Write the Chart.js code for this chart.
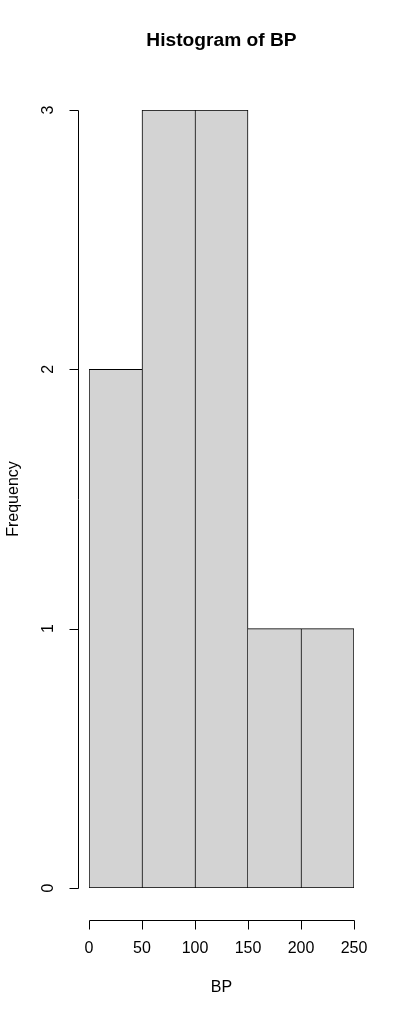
<!DOCTYPE html>
<html>
<head>
<meta charset="utf-8">
<script src="https://cdn.jsdelivr.net/npm/chart.js@4"></script>
<style>
html,body{margin:0;padding:0;background:#fff;}
canvas{display:block;}
</style>
</head>
<body>
<canvas id="c" width="405" height="1018"></canvas>
<script>
const binEdges = [0, 50, 100, 150, 200, 250];
const counts = [2, 3, 3, 1, 1];
const xTicks = [0, 50, 100, 150, 200, 250];
const yTicks = [0, 1, 2, 3];
const titleText = "Histogram of BP";
const xLabel = "BP";
const yLabel = "Frequency";

const points = counts.map((v, i) => ({x: (binEdges[i] + binEdges[i + 1]) / 2, y: v}));
const FONT = '"Liberation Sans", Arial, sans-serif';

const rAxes = {
  id: 'rAxes',
  afterDraw(chart) {
    const ctx = chart.ctx;
    const xs = chart.scales.x, ys = chart.scales.y;
    ctx.save();
    ctx.strokeStyle = '#000';
    ctx.fillStyle = '#000';
    ctx.lineWidth = 1;
    // y axis
    const ax = 78.5;
    ctx.beginPath();
    ctx.moveTo(ax, Math.round(ys.getPixelForValue(yTicks[0])) + 0.5);
    ctx.lineTo(ax, Math.round(ys.getPixelForValue(yTicks[yTicks.length - 1])) + 0.5);
    yTicks.forEach(t => {
      const py = Math.round(ys.getPixelForValue(t)) + 0.5;
      ctx.moveTo(ax, py);
      ctx.lineTo(ax - 9, py);
    });
    ctx.stroke();
    ctx.font = '16px ' + FONT;
    ctx.textAlign = 'center';
    ctx.textBaseline = 'middle';
    yTicks.forEach(t => {
      const py = ys.getPixelForValue(t);
      ctx.save();
      ctx.translate(49, py);
      ctx.rotate(-Math.PI / 2);
      ctx.fillText(String(t), 0, 0);
      ctx.restore();
    });
    // x axis
    const ay = 920.5;
    ctx.beginPath();
    ctx.moveTo(Math.round(xs.getPixelForValue(xTicks[0])) + 0.5, ay);
    ctx.lineTo(Math.round(xs.getPixelForValue(xTicks[xTicks.length - 1])) + 0.5, ay);
    xTicks.forEach(t => {
      const px = Math.round(xs.getPixelForValue(t)) + 0.5;
      ctx.moveTo(px, ay);
      ctx.lineTo(px, ay + 9);
    });
    ctx.stroke();
    xTicks.forEach(t => {
      ctx.fillText(String(t), xs.getPixelForValue(t), 949);
    });
    // axis titles
    ctx.fillText(xLabel, (xs.left + xs.right) / 2, 988);
    ctx.save();
    ctx.translate(14, (ys.top + ys.bottom) / 2);
    ctx.rotate(-Math.PI / 2);
    ctx.fillText(yLabel, 0, 0);
    ctx.restore();
    // main title
    ctx.font = 'bold 19.2px ' + FONT;
    ctx.fillText(titleText, (xs.left + xs.right) / 2, 41);
    ctx.restore();
  }
};

// shared edges are drawn once, by the taller of the two neighbouring bars
function edgeWidths(c) {
  const i = c.dataIndex, n = counts.length;
  return {
    top: 1,
    bottom: 1,
    left: (i === 0 || counts[i - 1] <= counts[i]) ? 1 : 0,
    right: (i === n - 1 || counts[i + 1] < counts[i]) ? 1 : 0
  };
}

new Chart(document.getElementById('c'), {
  type: 'bar',
  data: {
    datasets: [{
      data: points,
      backgroundColor: '#D3D3D3',
      borderColor: '#000000',
      borderWidth: edgeWidths,
      borderSkipped: false,
      barPercentage: 1,
      categoryPercentage: 1
    }]
  },
  options: {
    responsive: false,
    animation: false,
    devicePixelRatio: 1,
    layout: {padding: {left: 89, right: 51, top: 110, bottom: 130}},
    plugins: {legend: {display: false}, tooltip: {enabled: false}, title: {display: false}},
    scales: {
      x: {type: 'linear', min: binEdges[0], max: binEdges[binEdges.length - 1], offset: false, display: false},
      y: {min: 0, max: 3, display: false}
    }
  },
  plugins: [rAxes]
});
</script>
</body>
</html>
